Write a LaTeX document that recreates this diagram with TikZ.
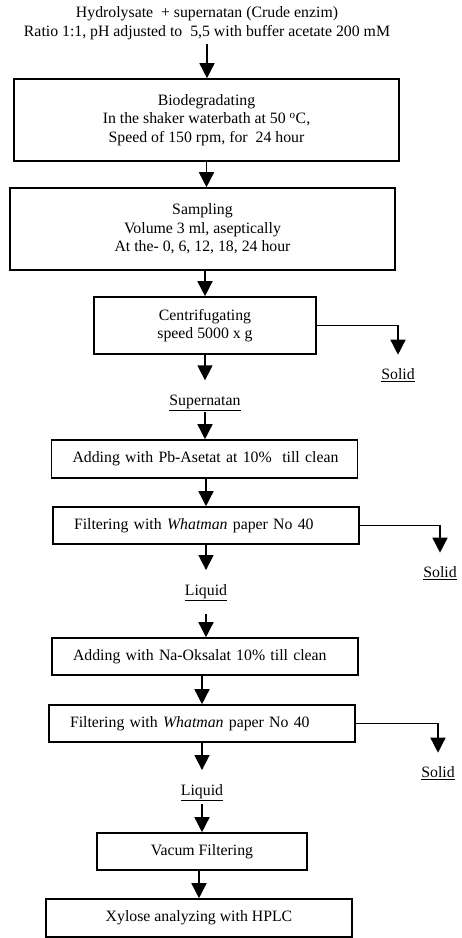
\documentclass[tikz,border=0pt]{standalone}
\usepackage{fontspec}
\setmainfont{Liberation Serif}
\usetikzlibrary{positioning,arrows.meta}

\begin{document}
\begin{tikzpicture}[x=1pt, y=-1pt, line width=1.5pt,
    >={Triangle[length=15pt,width=15pt]},
    every node/.style={font=\fontsize{15.8}{18.5}\selectfont},
    box/.style={draw, line width=1.6pt, inner sep=0pt, align=center},
    lbox/.style={draw, line width=1.6pt, inner ysep=0pt, inner xsep=21pt, align=left},
    lbl/.style={inner sep=0pt}]
   \useasboundingbox (0,0) rectangle (461,938);

   \node[align=center, inner sep=0pt] (start) at (207,23)
      {Hydrolysate\ \ + supernatan (Crude enzim)\\Ratio 1:1, pH adjusted to\ \ 5,5 with buffer acetate 200 mM};
    \node[box, minimum width=385pt, minimum height=82pt] (bio) at (206.5,120)
      {Biodegradating\\In the shaker waterbath at 50 $^{\mathrm{o}}$C,\\Speed of 150 rpm, for\ \ 24 hour};
    \node[box, minimum width=385pt, minimum height=82pt] (samp) at (202.5,229)
      {Sampling\\Volume 3 ml, aseptically\\At the- 0, 6, 12, 18, 24 hour};
    \node[box, minimum width=222pt, minimum height=57pt] (cent) at (205,325.5)
      {Centrifugating\\speed 5000 x g};
    \node[lbl] (sol1) at (398,375) {\underline{Solid}};
    \node[lbl] (sup) at (205,403) {\underline{Supernatan}};

    \node[lbox, text width=264pt, minimum height=38pt] (pb) at (204.5,459)
      {\mbox{Adding with Pb-Asetat at 10\%\ \ till clean}};
    \node[lbox, text width=264pt, minimum height=37pt] (filt1) at (206,525.5)
      {\mbox{Filtering with \emph{Whatman} paper No 40}};
    \node[lbl] (sol2) at (440,573) {\underline{Solid}};
    \node[lbl] (liq1) at (206,593) {\underline{Liquid}};

    \node[lbox, text width=264pt, minimum height=37pt] (na) at (205,656.5)
      {\mbox{Adding with Na-Oksalat 10\% till clean}};
    \node[lbox, text width=264pt, minimum height=37pt] (filt2) at (202,723.5)
      {\mbox{Filtering with \emph{Whatman} paper No 40}};
    \node[lbl] (sol3) at (438,773) {\underline{Solid}};
    \node[lbl] (liq2) at (202,793) {\underline{Liquid}};

    \node[box, minimum width=210pt, minimum height=37pt] (vac) at (202,851.5)
      {Vacum Filtering};
    \node[box, minimum width=306pt, minimum height=38pt] (hplc) at (199,918)
      {Xylose analyzing with HPLC};

    \path (start.south) edge[->, shorten <=4pt] (start.south |- bio.north);
    \path (bio.south) edge[->] (bio.south |- samp.north);
    \path (cent.north |- samp.south) edge[->] (cent.north);
    \path (cent.south) edge[->, shorten >=14pt] (sup.north);
    \path (sup.south) edge[->] (sup.south |- pb.north);
    \path (pb.south -| filt1.north) edge[->] (filt1.north);
    \path (filt1.south) edge[->, shorten >=14pt] (liq1.north);
    \path (liq1.south) edge[->, shorten <=12pt] (liq1.south |- na.north);
    \path (na.south -| filt2.north) edge[->] (filt2.north);
    \path (filt2.south) edge[->, shorten >=14pt] (liq2.north);
    \path (liq2.south) edge[->, shorten <=2pt] (liq2.south |- vac.north);
    \path (vac.south -| hplc.north) edge[->] (hplc.north);

    \draw[->, shorten >=13pt] (cent.east) -| (sol1.north);
    \draw[->, shorten >=13pt] (filt1.east) -| (sol2.north);
    \draw[->, shorten >=13pt] (filt2.east) -| (sol3.north);

\end{tikzpicture}
\end{document}
